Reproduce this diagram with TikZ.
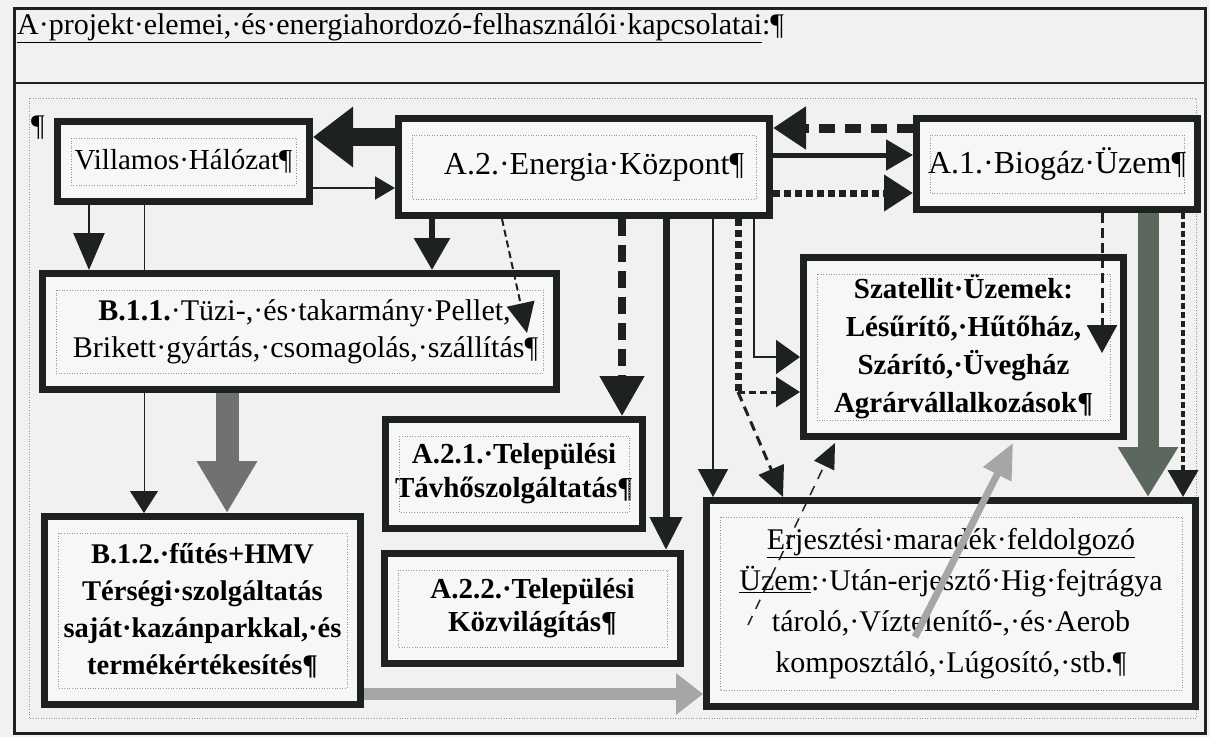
\documentclass[tikz,border=0pt]{standalone}
\usepackage{fontspec}
\setmainfont{Liberation Serif}
\usetikzlibrary{arrows.meta}
\definecolor{ink}{RGB}{30,34,30}
\definecolor{pagebg}{RGB}{240,241,240}
\definecolor{boxbg}{RGB}{246,247,246}
\definecolor{gdark}{RGB}{92,104,94}
\definecolor{gmid}{RGB}{112,114,112}
\definecolor{glight}{RGB}{165,167,165}
\definecolor{dotf}{RGB}{150,150,150}
\pgfdeclarelayer{back}
\pgfdeclarelayer{mid}
\pgfsetlayers{back,mid,main}
\tikzset{
  box/.style={draw=ink, line width=7pt, fill=boxbg, inner sep=0pt, align=center,
    font=\fontsize{30}{37}\selectfont},
  bbox/.style={box, font=\fontsize{29}{38}\bfseries\selectfont},
  innerframe/.style={draw=dotf, line width=0.6pt, dotted},
  conn/.style={draw=ink},
}
\begin{document}
\begin{tikzpicture}[x=1pt,y=-1pt]
\useasboundingbox (0,0) rectangle (1210,737);
\begin{pgfonlayer}{back}
\fill[pagebg] (0,0) rectangle (1210,737);
\draw[innerframe] (29,98) rectangle (1196,718);
\end{pgfonlayer}
\draw[ink, line width=3pt] (14,8) rectangle (1205,733);
\draw[ink, line width=2.5pt] (14,83) -- (1205,83);

\node[anchor=base west, inner sep=0pt, font=\fontsize{30}{34}\selectfont] (title) at (17,34)
  {\underline{A·projekt·elemei,·és·energiahordozó-felhasználói·kapcsolatai}:¶};
\node[anchor=base west, inner sep=0pt, font=\fontsize{30}{34}\selectfont] (pil) at (31,135) {¶};

% boxes
\node[box, minimum width=252pt, minimum height=80pt, font=\fontsize{29}{35}\selectfont] (vill) at (183.5,161.5) {Villamos·Hálózat¶};
\node[box, minimum width=371pt, minimum height=97pt, font=\fontsize{32}{38}\selectfont] (ener) at (584,167) {\raisebox{6pt}{\hspace*{20pt}A.2.·Energia·Központ¶}};
\node[box, minimum width=281pt, minimum height=91pt, font=\fontsize{32}{38}\selectfont] (biog) at (1057,164) {\raisebox{5pt}{A.1.·Biogáz·Üzem¶}};
\node[box, minimum width=514pt, minimum height=116pt] (b11) at (299.5,331.5)
  {\hspace*{10pt}\textbf{B.1.1.}·Tüzi-,·és·takarmány·Pellet,\\ \hspace*{12pt}Brikett·gyártás,·csomagolás,·szállítás¶};
\node[bbox, minimum width=320pt, minimum height=179pt] (szat) at (963.5,347)
  {Szatellit·Üzemek:\\ Lésűrítő,·Hűtőház,\\ Szárító,·Üvegház\\ Agrárvállalkozások¶};
\node[bbox, minimum width=257pt, minimum height=109pt, font=\fontsize{29}{34}\bfseries\selectfont] (a21) at (514,474)
  {A.2.1.·Települési\\ Távhőszolgáltatás¶};
\node[bbox, minimum width=296pt, minimum height=110pt, font=\fontsize{29}{33}\bfseries\selectfont] (a22) at (532.5,608.5)
  {A.2.2.·Települési\\ Közvilágítás¶};
\node[bbox, minimum width=316pt, minimum height=188pt, font=\fontsize{28.5}{37}\bfseries\selectfont] (b12) at (202.5,610.5)
  {B.1.2.·fűtés+HMV\\ Térségi·szolgáltatás\\ saját·kazánparkkal,·és\\ termékértékesítés¶};
\node[box, minimum width=489pt, minimum height=206pt, font=\fontsize{30}{41}\selectfont] (erj) at (951,603.5)
  {\underline{Erjesztési·maradék·feldolgozó}\\ \underline{Üzem}:·Után-erjesztő·Hig·fejtrágya\\ tároló,·Víztelenítő-,·és·Aerob\\ komposztáló,·Lúgosító,·stb.¶};

\foreach \n in {vill,ener,biog,b11,szat,a21,a22,b12,erj}
  \draw[innerframe] ([shift={(17,20)}]\n.north west) rectangle ([shift={(-17,-20)}]\n.south east);

% connector behind B.1.1
\begin{pgfonlayer}{mid}
\draw[conn, line width=1pt, -{Triangle[length=22pt,width=28pt]}]
  ([shift={(90,0)}]vill.south west) -- ([shift={(103,0)}]b12.north west);
\end{pgfonlayer}

% Energia <-> Villamos
\draw[conn, line width=18pt, -{Triangle[length=40pt,width=58pt]}]
  ([shift={(0,-30)}]ener.west) -- ([shift={(0,-24.5)}]vill.east);
\draw[conn, line width=2pt, -{Triangle[length=20pt,width=23pt]}]
  ([shift={(0,26.5)}]vill.east) -- ([shift={(0,21)}]ener.west);
% Biogaz <-> Energia
\draw[conn, line width=9pt, dash pattern=on 16pt off 10pt, -{Triangle[length=33pt,width=41pt]}]
  ([shift={(0,-36)}]biog.west) -- ([shift={(0,-39)}]ener.east);
\draw[conn, line width=5pt, -{Triangle[length=27pt,width=30pt]}]
  ([shift={(0,-12)}]ener.east) -- ([shift={(0,-9)}]biog.west);
\draw[conn, line width=7pt, dash pattern=on 7pt off 4pt, -{Triangle[length=29pt,width=35pt]}]
  ([shift={(0,26)}]ener.east) -- ([shift={(0,29)}]biog.west);
% Villamos -> B.1.1
\draw[conn, line width=2.5pt, -{Triangle[length=37pt,width=31pt]}]
  ([shift={(35,0)}]vill.south west) -- ([shift={(50,0)}]b11.north west);
% Energia -> B.1.1
\draw[conn, line width=6pt, -{Triangle[length=32pt,width=35pt]}]
  ([shift={(37,0)}]ener.south west) -- ([shift={(393,0)}]b11.north west);
\draw[conn, line width=2pt, dash pattern=on 7pt off 4pt, -{Triangle[length=30pt,width=28pt]}]
  ([shift={(107,0)}]ener.south west) -- ([shift={(-33,63)}]b11.north east);
% Energia -> A.2.1
\draw[conn, line width=8pt, dash pattern=on 17pt off 9pt, -{Triangle[length=40pt,width=43pt]}]
  ([shift={(227,0)}]ener.south west) -- ([shift={(240,0)}]a21.north west);
% Energia -> A.2.2
\draw[conn, line width=7pt, -{Triangle[length=33pt,width=31pt]}]
  ([shift={(271,0)}]ener.south west) -- ([shift={(285,0)}]a22.north west);
% Energia -> Erjesztesi
\draw[conn, line width=2pt, -{Triangle[length=28pt,width=30pt]}]
  ([shift={(318,0)}]ener.south west) -- ([shift={(10,0)}]erj.north west);
% Energia dotted branch
\coordinate (br) at (738,392);
\draw[conn, line width=7pt, dash pattern=on 7pt off 4pt]
  ([shift={(343,0)}]ener.south west) -- (br);
\draw[conn, line width=3pt, dash pattern=on 7pt off 4pt, -{Triangle[length=24pt,width=30pt]}]
  (br) -- ([shift={(0,45)}]szat.west);
\draw[conn, line width=3pt, dash pattern=on 10pt off 6pt, -{Triangle[length=30pt,width=27pt]}]
  (br) -- ([shift={(80,0)}]erj.north west);
% Energia -> Szatellit
\draw[conn, line width=2pt, -{Triangle[length=24pt,width=34pt]}]
  ([shift={(359,0)}]ener.south west) |- ([shift={(0,10)}]szat.west);
% Biogaz -> Szatellit
\draw[conn, line width=3pt, dash pattern=on 10pt off 5pt, -{Triangle[length=28pt,width=30pt]}]
  ([shift={(189,0)}]biog.south west) -- ([shift={(-25,99)}]szat.north east);
% Biogaz -> Erjesztesi
\draw[draw=gdark, line width=21pt, -{Triangle[length=50pt,width=57pt]}]
  ([shift={(235,0)}]biog.south west) -- ([shift={(-51,0)}]erj.north east);
\draw[conn, line width=4pt, dash pattern=on 6pt off 3pt, -{Triangle[length=27pt,width=30pt]}]
  ([shift={(270,0)}]biog.south west) -- ([shift={(-16,0)}]erj.north east);
% Erjesztesi -> Szatellit
\draw[draw=glight, line width=7pt, -{Triangle[length=35pt,width=30pt]}]
  ([shift={(212,140)}]erj.north west) -- ([shift={(213,3)}]szat.south west);
\draw[conn, line width=1.5pt, dash pattern=on 10pt off 8pt, -{Triangle[length=25pt,width=22pt]}]
  ([shift={(45,128)}]erj.north west) -- ([shift={(35,3)}]szat.south west);
% B.1.1 -> B.1.2
\draw[draw=gmid, line width=23pt, -{Triangle[length=52pt,width=57pt]}]
  ([shift={(188,0)}]b11.south west) -- ([shift={(186,0)}]b12.north west);
% B.1.2 -> Erjesztesi
\draw[draw=glight, line width=12pt, -{Triangle[length=27pt,width=40pt]}]
  ([shift={(0,83.5)}]b12.east) -- ([shift={(0,90.5)}]erj.west);
\end{tikzpicture}
\end{document}
